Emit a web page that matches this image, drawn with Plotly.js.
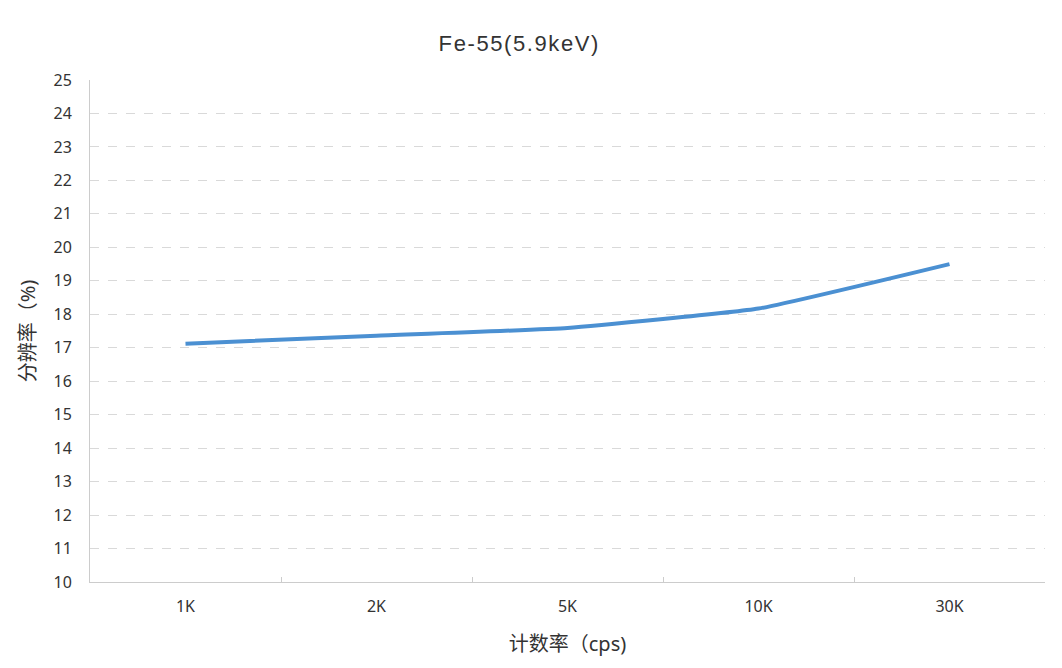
<!DOCTYPE html>
<html>
<head>
<meta charset="utf-8">
<script src="https://cdn.plot.ly/plotly-3.0.1.min.js"></script>
<style>
  html, body { margin: 0; padding: 0; background: #ffffff; }
  #chart { width: 1062px; height: 668px; }
  .gtitle { letter-spacing: 1.6px; }
</style>
</head>
<body>
<div id="chart"></div>
<script>
const categories = ['1K', '2K', '5K', '10K', '30K'];
const resolution = [17.12, 17.36, 17.59, 18.17, 19.5];
const yTicks = [10, 11, 12, 13, 14, 15, 16, 17, 18, 19, 20, 21, 22, 23, 24, 25];

const fontFamily = '"Noto Sans", "Noto Sans CJK SC", sans-serif';

const trace = {
  x: categories,
  y: resolution,
  type: 'scatter',
  mode: 'lines',
  line: { color: '#4b90d2', width: 4, shape: 'spline', smoothing: 0.35 },
  hoverinfo: 'x+y'
};

const layout = {
  width: 1062,
  height: 668,
  margin: { l: 90, r: 17, t: 80, b: 86 },
  paper_bgcolor: '#ffffff',
  plot_bgcolor: '#ffffff',
  showlegend: false,
  font: { family: fontFamily, color: '#333333' },
  title: {
    text: 'Fe-55(5.9keV)',
    font: { size: 22, color: '#333333', family: '"Liberation Sans", Arial, sans-serif' },
    xref: 'container',
    x: 0.489,
    xanchor: 'center',
    yref: 'container',
    y: 0.935,
    yanchor: 'middle'
  },
  xaxis: {
    type: 'category',
    range: [-0.5, categories.length - 0.5],
    tickson: 'boundaries',
    ticks: 'inside',
    ticklen: 5,
    tickcolor: '#cccccc',
    showline: true,
    linecolor: '#cccccc',
    linewidth: 1,
    showgrid: false,
    zeroline: false,
    ticklabelstandoff: 10,
    tickfont: { size: 16, color: '#333333' },
    title: {
      text: '计数率（cps)',
      font: { size: 20, color: '#333333' },
      standoff: 20
    }
  },
  yaxis: {
    range: [10, 25],
    tickvals: yTicks,
    ticks: '',
    showline: true,
    linecolor: '#cccccc',
    linewidth: 1,
    showgrid: true,
    gridcolor: '#d9d9d9',
    griddash: 'dash',
    gridwidth: 1,
    zeroline: false,
    ticklabelstandoff: 14,
    tickfont: { size: 16, color: '#333333' },
    title: {
      text: '分辨率（%)',
      font: { size: 20, color: '#333333' },
      standoff: 12
    }
  }
};

Plotly.newPlot('chart', [trace], layout, { displayModeBar: false, responsive: false });
</script>
</body>
</html>
